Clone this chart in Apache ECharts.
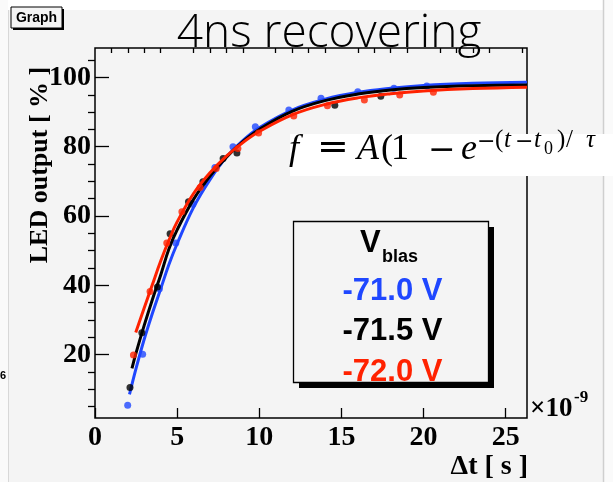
<!DOCTYPE html>
<html>
<head>
<meta charset="utf-8">
<script src="https://cdn.jsdelivr.net/npm/echarts@6/dist/echarts.min.js"></script>
<style>
html, body { margin: 0; padding: 0; background: #ffffff; }
#chart { width: 613px; height: 482px; }
</style>
</head>
<body>
<div id="chart"></div>
<script>
// Measured LED output after a pulse, for three bias voltages (time in ns)
const blueT = [1.99, 2.9, 3.92, 4.92, 5.96, 7.3, 8.4, 9.76, 11.8, 13.76, 16.0, 18.2, 20.2];
const blueV = [5.4, 20.1, 39.0, 52.2, 63.4, 74.0, 80.0, 85.8, 90.6, 94.0, 95.9, 96.9, 97.5];

const blackT = [2.13, 2.85, 3.8, 4.57, 5.69, 6.57, 7.8, 8.64, 14.6, 17.4];
const blackV = [10.5, 26.3, 39.5, 54.9, 64.1, 69.9, 76.6, 78.2, 92.0, 94.6];

const redT = [2.34, 3.35, 4.37, 5.29, 6.4, 7.38, 8.7, 9.96, 12.1, 14.15, 16.4, 18.55, 20.6];
const redV = [19.9, 38.2, 52.2, 61.2, 68.2, 73.7, 79.5, 84.0, 88.9, 91.8, 93.5, 94.9, 95.7];

// Fitted recovery curves, sampled along each drawn fit
const blueFitT = [2.1, 2.5, 3, 3.5, 4, 4.5, 5, 6, 7, 8, 9, 10, 12, 14, 16, 18, 20, 23, 26.3];
const blueFitV = [8.5, 16, 24.5, 32, 39, 46, 52, 62.5, 70.5, 77, 81.8, 85.5, 90.6, 93.7, 95.7, 96.9, 97.7, 98.3, 98.6];

const blackFitT = [2.25, 2.5, 3, 3.5, 4, 4.5, 5, 6, 7, 8, 9, 10, 12, 14, 16, 18, 20, 23, 26.3];
const blackFitV = [16, 20.5, 28.5, 36, 43, 50.5, 56, 64.8, 71.5, 77, 81.5, 85, 90.2, 93.3, 95.2, 96.4, 97.1, 97.6, 97.8];

const redFitT = [2.48, 3, 3.5, 4, 4.5, 5, 6, 7, 8, 9, 10, 12, 14, 16, 18, 20, 23, 26.3];
const redFitV = [26.4, 33.5, 40.3, 47, 53, 58.3, 66.5, 72.5, 77.3, 81.2, 84.4, 89.2, 92.2, 94.1, 95.3, 96.1, 96.8, 97.2];

// Axis ticks
const xMajor = [0, 5, 10, 15, 20, 25];
const xMinor = [1, 2, 3, 4, 6, 7, 8, 9, 11, 12, 13, 14, 16, 17, 18, 19, 21, 22, 23, 24, 26];
const yMajor = [20, 40, 60, 80, 100];
const yMinor = [5, 10, 15, 25, 30, 35, 45, 50, 55, 65, 70, 75, 85, 90, 95, 105];

// Legend entries
const legendLabels = ['-71.0 V', '-71.5 V', '-72.0 V'];
const legendColors = ['#1f47ff', '#000000', '#ff2200'];

const pairs = (xs, ys) => xs.map((x, i) => [x, ys[i]]);

const X_MIN = 0, X_MAX = 26.3, Y_MIN = 1.7, Y_MAX = 108.5;
const serifBold = 'bold 28px "Liberation Serif"';

function axisPair(kind, major, minor, min, max, majorLen, minorLen) {
  const base = {
    type: 'value', min: min, max: max,
    splitLine: { show: false },
    axisLine: { show: false }
  };
  return [
    Object.assign({}, base, {
      axisTick: { show: true, inside: true, length: majorLen, customValues: major,
                  lineStyle: { color: '#000', width: 1.3 } },
      axisLabel: { show: true, customValues: major, color: '#000',
                   fontFamily: 'Liberation Serif', fontWeight: 'bold', fontSize: 28,
                   margin: kind === 'x' ? 6 : 4 }
    }),
    Object.assign({}, base, {
      axisTick: { show: true, inside: true, length: minorLen, customValues: minor,
                  lineStyle: { color: '#000', width: 1.3 } },
      axisLabel: { show: false }
    })
  ];
}

const chart = echarts.init(document.getElementById('chart'), null, { renderer: 'canvas' });

const fitLine = (name, data, color, z) => ({
  name: name, type: 'line', data: data, smooth: 0.4, showSymbol: false, z: z,
  lineStyle: { color: color, width: 3 }, emphasis: { disabled: true }, silent: true
});
const dots = (name, data, color, z) => ({
  name: name, type: 'scatter', data: data, symbol: 'circle', symbolSize: 7, z: z,
  itemStyle: { color: color }, emphasis: { disabled: true }, silent: true
});

// Formula pieces: [text, left x, baseline y, font]
const mainI = 'italic 36px "Liberation Serif"';
const mainF = '36px "Liberation Serif"';
const supI = 'italic 25px "Liberation Serif"';
const supF = '25px "Liberation Serif"';
const formula = [
  ['f', 289, 168, mainI],
  ['=', 317, 168, '38px "DejaVu Serif"'],
  ['A', 357, 168, mainI],
  ['(', 381, 168, mainF],
  ['1', 391, 168, mainF],
  ['\u2212', 428, 168, '33px "DejaVu Serif"'],
  ['e', 461, 168, mainI],
  ['\u2212', 477, 153, '22px "DejaVu Serif"'],
  ['(', 495, 153, supF],
  ['t', 504, 153, supI],
  ['\u2212', 515, 153, '22px "DejaVu Serif"'],
  ['t', 534, 153, supI],
  ['0', 544, 158, '18px "Liberation Serif"'],
  [')', 557, 153, supF],
  ['/', 566, 153, supF],
  ['\u03c4', 586, 153, supI]
];

const graphics = [
  // edges of the canvas
  { type: 'rect', shape: { x: 0, y: 0, width: 613, height: 10 }, style: { fill: '#ffffff' }, z: 0 },
  { type: 'rect', shape: { x: 0, y: 0, width: 8, height: 482 }, style: { fill: '#fafafa' }, z: 0 },
  { type: 'rect', shape: { x: 604, y: 0, width: 9, height: 482 }, style: { fill: '#fafafa' }, z: 0 },
  { type: 'line', shape: { x1: 8.5, y1: 10, x2: 8.5, y2: 482 }, style: { stroke: '#d8d8d8', lineWidth: 1 }, z: 0 },
  { type: 'line', shape: { x1: 603.5, y1: 0, x2: 603.5, y2: 482 }, style: { stroke: '#cfcfcf', lineWidth: 1.5 }, z: 0 },
  // title box
  { type: 'rect', shape: { x: 13, y: 9, width: 51, height: 21 }, style: { fill: '#000' }, z: 20 },
  { type: 'rect', shape: { x: 11, y: 7, width: 51, height: 21 }, style: { fill: '#f4f4f4', stroke: '#000', lineWidth: 1 }, z: 21 },
  { type: 'text', x: 36.5, y: 18, style: { text: 'Graph', font: 'bold 14px "Liberation Sans"', fill: '#000', textAlign: 'center', textVerticalAlign: 'middle' }, z: 22 },
  // title
  { type: 'text', x: 329, y: 34, style: { text: '4ns recovering', font: '300 46px "Open Sans"', fill: '#000', textAlign: 'center', textVerticalAlign: 'middle' }, z: 22 },
  // axis titles
  { type: 'text', x: 40, y: 165, rotation: Math.PI / 2, style: { text: 'LED output [ % ]', font: 'bold 26px "Liberation Serif"', fill: '#000', textAlign: 'center', textVerticalAlign: 'middle' }, z: 22 },
  { type: 'text', x: 528, y: 467, style: { text: '\u0394t [ s ]', font: serifBold, fill: '#000', textAlign: 'right', textVerticalAlign: 'middle' }, z: 22 },
  { type: 'text', x: 530, y: 409, style: { text: '\u00d710', font: 'bold 27px "Liberation Serif"', fill: '#000', textAlign: 'left', textVerticalAlign: 'middle' }, z: 22 },
  { type: 'text', x: 574, y: 398, style: { text: '-9', font: 'bold 17px "Liberation Serif"', fill: '#000', textAlign: 'left', textVerticalAlign: 'middle' }, z: 22 },
  { type: 'text', x: 0, y: 376, style: { text: '6', font: 'bold 11px "Liberation Sans"', fill: '#000', textAlign: 'left', textVerticalAlign: 'middle' }, z: 22 },
  // formula panel
  { type: 'rect', shape: { x: 290, y: 134, width: 323, height: 42 }, style: { fill: '#ffffff' }, z: 30 },
  // legend
  { type: 'rect', shape: { x: 299, y: 227, width: 195, height: 161 }, style: { fill: '#000' }, z: 30 },
  { type: 'rect', shape: { x: 293.5, y: 221.5, width: 195, height: 161 }, style: { fill: '#f4f4f4', stroke: '#000', lineWidth: 1.3 }, z: 31 },
  { type: 'text', x: 360, y: 243, style: { text: 'V', font: 'bold 31px "Liberation Sans"', fill: '#000', textAlign: 'left', textVerticalAlign: 'middle' }, z: 32 },
  { type: 'text', x: 382, y: 257, style: { text: 'blas', font: 'bold 18px "Liberation Sans"', fill: '#000', textAlign: 'left', textVerticalAlign: 'middle' }, z: 32 }
];
legendLabels.forEach((lab, i) => {
  graphics.push({ type: 'text', x: 392.5, y: 291 + i * 40.5,
    style: { text: lab, font: 'bold 31px "Liberation Sans"', fill: legendColors[i], textAlign: 'center', textVerticalAlign: 'middle' }, z: 32 });
});
formula.forEach(p => {
  graphics.push({ type: 'text', x: p[1], y: p[2],
    style: { text: p[0], font: p[3], fill: '#000', textAlign: 'left', textVerticalAlign: 'bottom' }, z: 32 });
});

const xs = axisPair('x', xMajor, xMinor, X_MIN, X_MAX, 10, 5);
const ys = axisPair('y', yMajor, yMinor, Y_MIN, Y_MAX, 14, 7);

chart.setOption({
  backgroundColor: '#f4f4f4',
  animation: false,
  grid: { left: 95, top: 48, width: 432, height: 370, show: true, borderColor: '#000', borderWidth: 1.5, backgroundColor: 'transparent' },
  xAxis: xs,
  yAxis: ys,
  series: [
    fitLine('fit -71.0 V', pairs(blueFitT, blueFitV), '#1f47ff', 3),
    dots('-71.0 V', pairs(blueT, blueV), '#1f47ff', 4),
    fitLine('fit -71.5 V', pairs(blackFitT, blackFitV), '#000000', 5),
    dots('-71.5 V', pairs(blackT, blackV), '#000000', 6),
    fitLine('fit -72.0 V', pairs(redFitT, redFitV), '#ff2200', 7),
    dots('-72.0 V', pairs(redT, redV), '#ff2200', 8)
  ],
  graphic: graphics
});
</script>
</body>
</html>
